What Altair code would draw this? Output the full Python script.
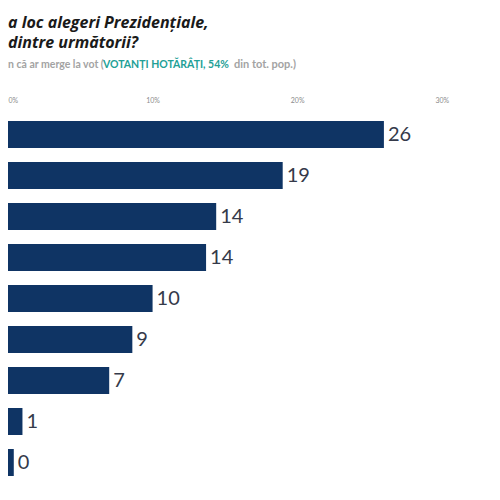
import altair as alt
import pandas as pd

# --- data ---
categories = ["c1", "c2", "c3", "c4", "c5", "c6", "c7", "c8", "c9"]
values = [26.0, 19.0, 14.4, 13.7, 10.0, 8.6, 7.0, 1.0, 0.4]
value_labels = ["26", "19", "14", "14", "10", "9", "7", "1", "0"]
tick_values = [0, 10, 20, 30]

title_line1 = ["a loc alegeri Prezidențiale,"]
title_line2 = ["dintre următorii?"]
sub_gray1 = ["n că ar merge la vot ("]
sub_teal = ["VOTANȚI HOTĂRÂȚI, 54%"]
sub_gray2 = ["din tot. pop.)"]

BAR = "#0f3464"
FONT = "Lato"
TFONT = "Open Sans"

df = pd.DataFrame({"cat": categories, "val": values, "lab": value_labels})

base = alt.Chart(df).encode(
    y=alt.Y("cat:N", sort=None, axis=None,
            scale=alt.Scale(paddingInner=0.34, paddingOuter=0.17)),
)

bars = base.mark_bar(color=BAR).encode(
    x=alt.X("val:Q",
            scale=alt.Scale(domain=[0, 33.2], nice=False, zero=True),
            axis=alt.Axis(orient="top", values=tick_values, title=None,
                          labelExpr="datum.value + '%'", grid=False,
                          domain=False, ticks=False, tickSize=0,
                          labelPadding=11, labelFontSize=7,
                          labelColor="#8c8c8c", labelFont=FONT)),
)

labels = base.mark_text(align="left", baseline="middle", dx=4,
                        fontSize=20, font=FONT, color="#353a4a").encode(
    x="val:Q", text="lab:N")


def txt(lines, x, y, **kw):
    return alt.Chart(pd.DataFrame({"t": lines})).mark_text(**kw).encode(
        text="t:N", x=alt.value(x), y=alt.value(y))


t1 = txt(title_line1, 0, -86, align="left", baseline="alphabetic", font=TFONT,
         fontSize=16, fontWeight="bold", fontStyle="italic", color="#1a1a1a")
t2 = txt(title_line2, 0, -66, align="left", baseline="alphabetic", font=TFONT,
         fontSize=16, fontWeight="bold", fontStyle="italic", color="#1a1a1a")
s1 = txt(sub_gray1, 0, -49, align="left", baseline="middle", font=FONT,
         fontSize=10.5, fontWeight="bold", color="#a3a3a3")
s2 = txt(sub_teal, 95, -49, align="left", baseline="middle", font=FONT,
         fontSize=10.5, fontWeight="bold", color="#22a096")
s3 = txt(sub_gray2, 226, -49, align="left", baseline="middle", font=FONT,
         fontSize=11, fontWeight="bold", color="#a3a3a3")

chart = alt.layer(bars, labels, t1, t2, s1, s2, s3).properties(
    width=480, height=369,
    autosize=alt.AutoSizeParams(type="none"),
    padding={"left": 0, "top": 106, "right": 0, "bottom": 10},
).configure_view(stroke=None)

chart.save("out.html", embed_options={"renderer": "svg", "actions": False})
